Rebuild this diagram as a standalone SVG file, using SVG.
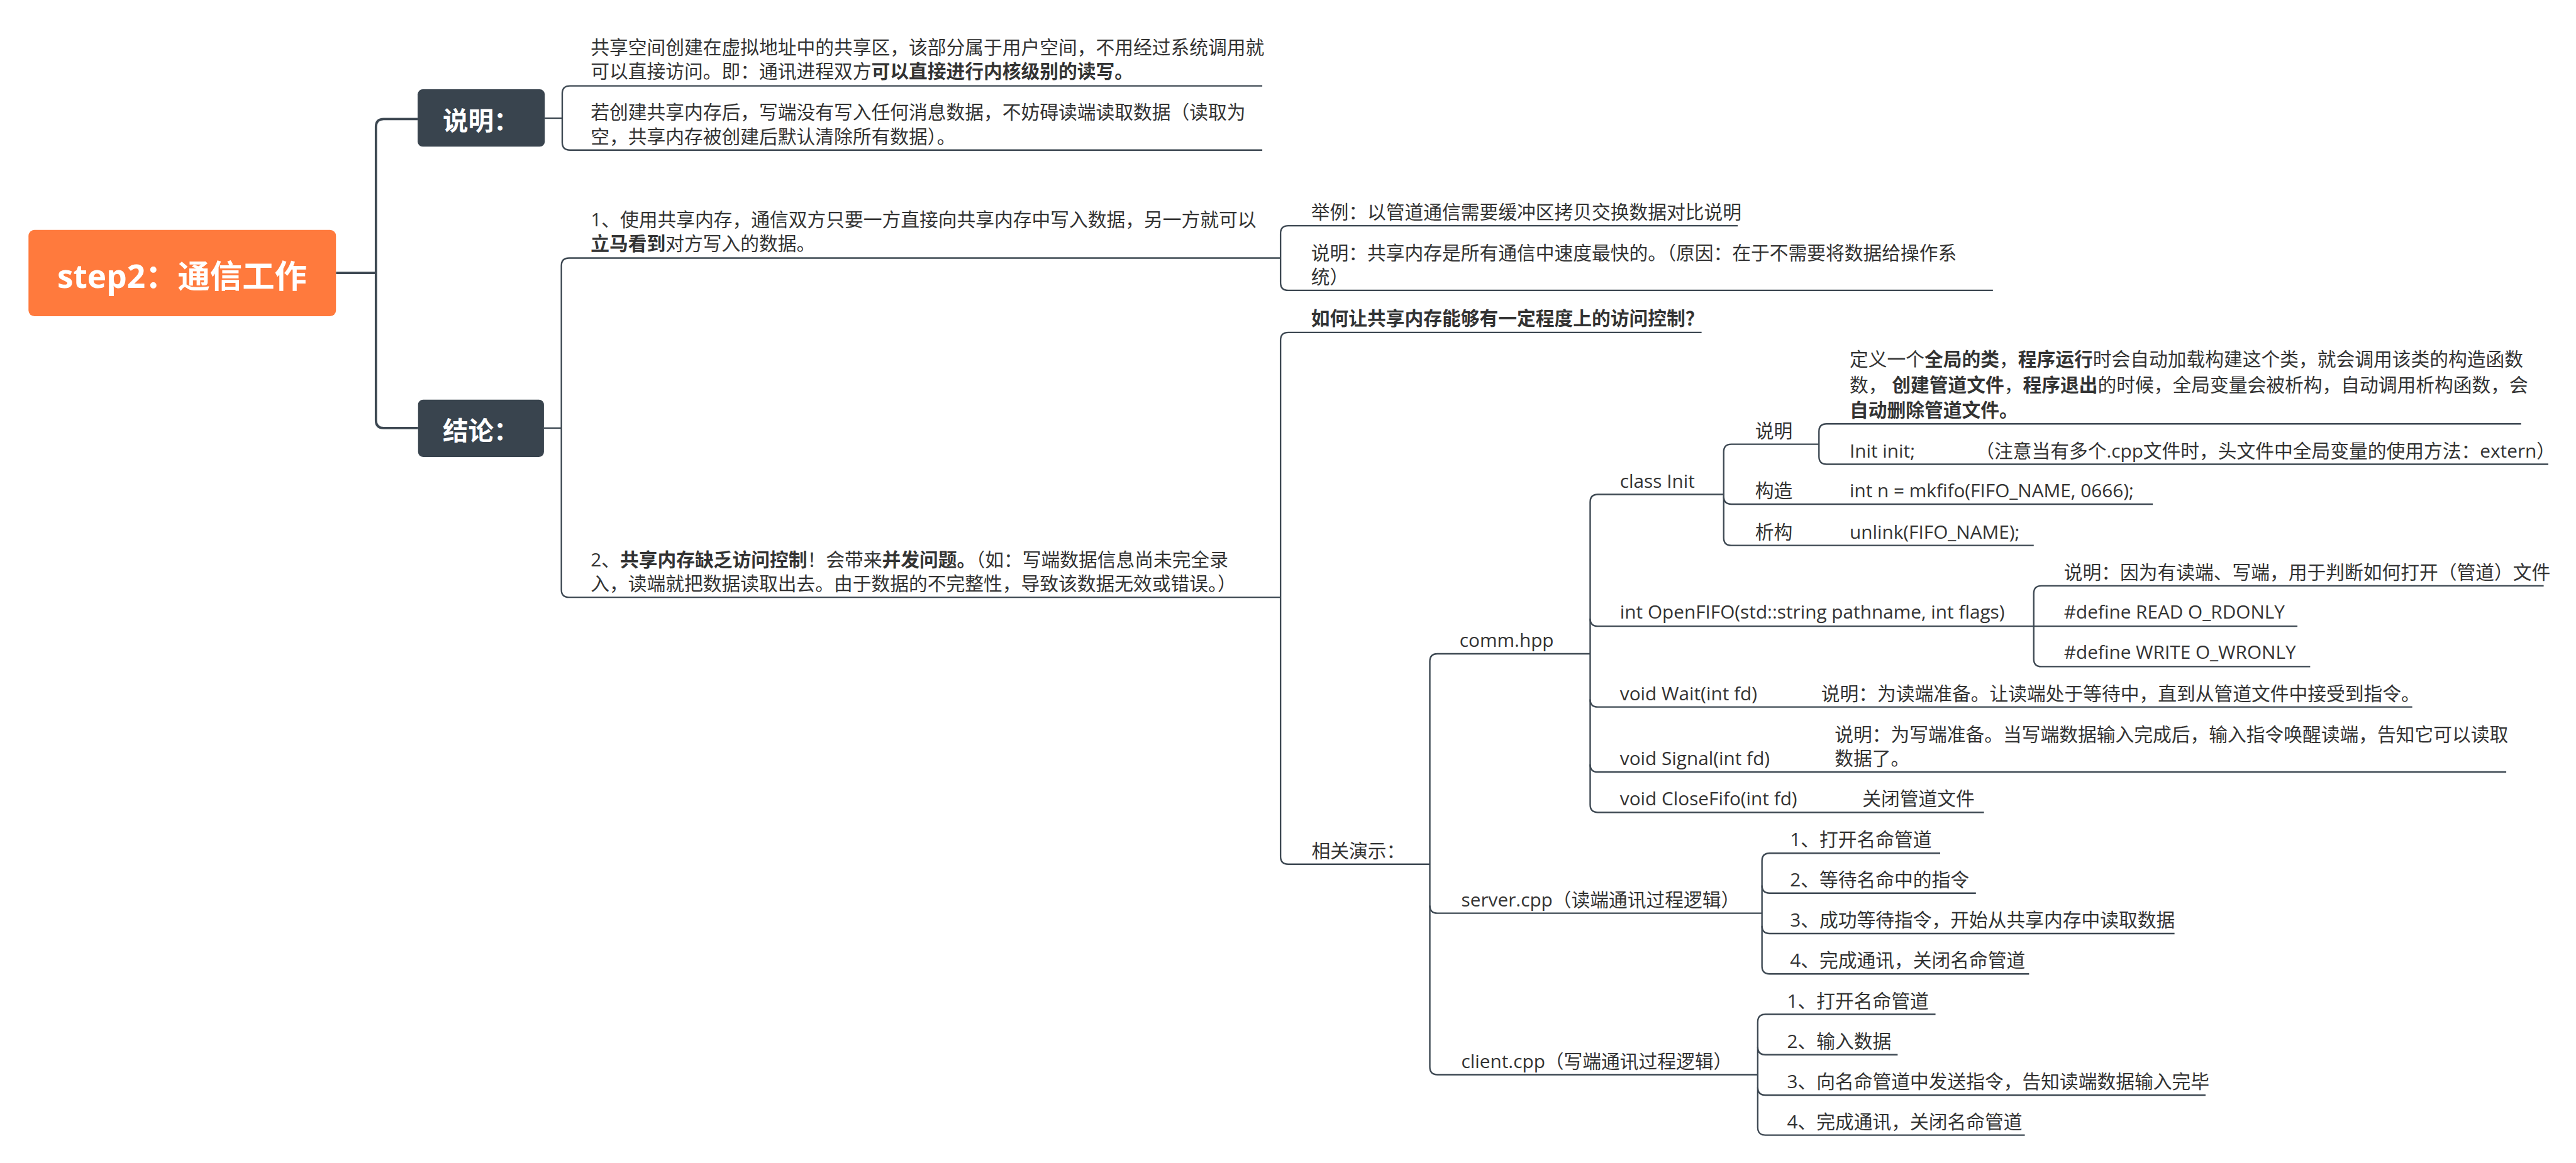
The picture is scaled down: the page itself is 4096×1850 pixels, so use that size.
<svg xmlns="http://www.w3.org/2000/svg" width="4096" height="1850" viewBox="0 0 4096 1850">
<style>
.t{font-family:"Open Sans","Noto Sans CJK SC",sans-serif;font-size:44px;fill:#333333}
.b{font-weight:bold}
.ln{fill:none;stroke:#3d4852;stroke-width:3.5}
.lr{fill:none;stroke:#3d4852;stroke-width:5.5}
.box{fill:#39444e}
.bt{font-family:"Open Sans","Noto Sans CJK SC",sans-serif;font-weight:bold;fill:#ffffff;text-anchor:middle}
</style>
<rect width="4096" height="1850" fill="#ffffff"/>
<g transform="scale(0.67624)">
<g id="connectors">
<path class="lr" d="M 790,642 H 884"/>
<path class="lr" d="M 982,280 H 902 Q 884,280 884,298 V 989 Q 884,1007 902,1007 H 983"/>
<path class="ln" d="M 1281,278 H 1322"/>
<path class="ln" d="M 2968,202 H 1340 Q 1322,202 1322,220 V 335 Q 1322,353 1340,353 H 2968"/>
<path class="ln" d="M 1279,1007 H 1320"/>
<path class="ln" d="M 3011,607 H 1338 Q 1320,607 1320,625 V 1387 Q 1320,1405 1338,1405 H 3011"/>
<path class="ln" d="M 4086,531 H 3029 Q 3011,531 3011,549 V 665 Q 3011,683 3029,683 H 4686"/>
<path class="ln" d="M 4001,782 H 3029 Q 3011,782 3011,800 V 2015 Q 3011,2033 3029,2033 H 3362"/>
<path class="ln" d="M 3739,1538 H 3380 Q 3362,1538 3362,1556 V 2510 Q 3362,2528 3380,2528 H 4133"/>
<path class="ln" d="M 3362,2130 Q 3362,2148 3380,2148 H 4143"/>
<path class="ln" d="M 4053,1163 H 3757 Q 3739,1163 3739,1181 V 1893 Q 3739,1911 3757,1911 H 4665"/>
<path class="ln" d="M 3739,1455 Q 3739,1473 3757,1473 H 4782"/>
<path class="ln" d="M 3739,1645 Q 3739,1663 3757,1663 H 5672"/>
<path class="ln" d="M 3739,1798 Q 3739,1816 3757,1816 H 5893"/>
<path class="ln" d="M 4277,1045 H 4071 Q 4053,1045 4053,1063 V 1265 Q 4053,1283 4071,1283 H 4782"/>
<path class="ln" d="M 4053,1168 Q 4053,1186 4071,1186 H 5062"/>
<path class="ln" d="M 5928,997 H 4295 Q 4277,997 4277,1015 V 1074 Q 4277,1092 4295,1092 H 5992"/>
<path class="ln" d="M 5981,1378 H 4800 Q 4782,1378 4782,1396 V 1550 Q 4782,1568 4800,1568 H 5432"/>
<path class="ln" d="M 4782,1473 H 5402"/>
<path class="ln" d="M 4562,2007 H 4161 Q 4143,2007 4143,2025 V 2273 Q 4143,2291 4161,2291 H 4771"/>
<path class="ln" d="M 4143,2083 Q 4143,2101 4161,2101 H 4646"/>
<path class="ln" d="M 4143,2178 Q 4143,2196 4161,2196 H 5113"/>
<path class="ln" d="M 4551,2386 H 4151 Q 4133,2386 4133,2404 V 2652 Q 4133,2670 4151,2670 H 4761"/>
<path class="ln" d="M 4133,2463 Q 4133,2481 4151,2481 H 4462"/>
<path class="ln" d="M 4133,2558 Q 4133,2576 4151,2576 H 5186"/>
</g>
<g id="root">
<rect x="67" y="541" width="723" height="203" rx="14" fill="#ff7a3d"/>
<text class="bt" x="428" y="677" font-size="76">step2：通信工作</text>
</g>
<g id="n-shuoming">
<rect class="box" x="982" y="210" width="299" height="135" rx="12"/>
<text class="bt" x="1131" y="306" font-size="60">说明：</text>
</g>
<g id="n-jielun">
<rect class="box" x="983" y="940" width="296" height="135" rx="12"/>
<text class="bt" x="1131" y="1035" font-size="60">结论：</text>
</g>
<g id="n-sm1">
<text class="t" x="1389" y="127">共享空间创建在虚拟地址中的共享区，该部分属于用户空间，不用经过系统调用就</text>
<text class="t" x="1389" y="184">可以直接访问。即：通讯进程双方<tspan class="b">可以直接进行内核级别的读写。</tspan></text>
</g>
<g id="n-sm2">
<text class="t" x="1389" y="280">若创建共享内存后，写端没有写入任何消息数据，不妨碍读端读取数据（读取为</text>
<text class="t" x="1389" y="337">空，共享内存被创建后默认清除所有数据）。</text>
</g>
<g id="n-jl1">
<text class="t" x="1389" y="532">1、使用共享内存，通信双方只要一方直接向共享内存中写入数据，另一方就可以</text>
<text class="t" x="1389" y="589"><tspan class="b">立马看到</tspan>对方写入的数据。</text>
</g>
<g id="n-jl2">
<text class="t" x="1389" y="1332">2、<tspan class="b">共享内存缺乏访问控制</tspan>！会带来<tspan class="b">并发问题。</tspan>（如：写端数据信息尚未完全录</text>
<text class="t" x="1389" y="1389">入，读端就把数据读取出去。由于数据的不完整性，导致该数据无效或错误。）</text>
</g>
<g id="n-juli">
<text class="t" x="3083" y="515">举例：以管道通信需要缓冲区拷贝交换数据对比说明</text>
</g>
<g id="n-sm3">
<text class="t" x="3083" y="610">说明：共享内存是所有通信中速度最快的。（原因：在于不需要将数据给操作系</text>
<text class="t" x="3083" y="667">统）</text>
</g>
<g id="n-ruhe">
<text class="t b" x="3083" y="764">如何让共享内存能够有一定程度上的访问控制？</text>
</g>
<g id="n-xiangguan">
<text class="t" x="3084" y="2017">相关演示：</text>
</g>
<g id="n-comm">
<text class="t" x="3432" y="1522">comm.hpp</text>
</g>
<g id="n-classinit">
<text class="t" x="3809" y="1147">class Init</text>
</g>
<g id="n-ci-sm">
<text class="t" x="4127" y="1029">说明</text>
</g>
<g id="n-ci-def">
<text class="t" x="4349" y="861">定义一个<tspan class="b">全局的类</tspan>，<tspan class="b">程序运行</tspan>时会自动加载构建这个类，就会调用该类的构造函数</text>
<text class="t" x="4349" y="921">数， <tspan class="b">创建管道文件</tspan>，<tspan class="b">程序退出</tspan>的时候，全局变量会被析构，自动调用析构函数，会</text>
<text class="t b" x="4349" y="981">自动删除管道文件。</text>
</g>
<g id="n-ci-init">
<text class="t" x="4349" y="1076">Init init;<tspan x="4645">（注意当有多个.cpp文件时，头文件中全局变量的使用方法：extern）</tspan></text>
</g>
<g id="n-gouzao">
<text class="t" x="4127" y="1170">构造</text>
</g>
<g id="n-mkfifo">
<text class="t" x="4349" y="1170">int n = mkfifo(FIFO_NAME, 0666);</text>
</g>
<g id="n-xigou">
<text class="t" x="4127" y="1267">析构</text>
</g>
<g id="n-unlink">
<text class="t" x="4349" y="1267">unlink(FIFO_NAME);</text>
</g>
<g id="n-openfifo">
<text class="t" x="3809" y="1455">int OpenFIFO(std::string pathname, int flags)</text>
</g>
<g id="n-of-sm">
<text class="t" x="4853" y="1362">说明：因为有读端、写端，用于判断如何打开（管道）文件</text>
</g>
<g id="n-of-read">
<text class="t" x="4853" y="1455">#define READ O_RDONLY</text>
</g>
<g id="n-of-write">
<text class="t" x="4853" y="1550">#define WRITE O_WRONLY</text>
</g>
<g id="n-wait">
<text class="t" x="3809" y="1647">void Wait(int fd)</text>
</g>
<g id="n-wait-sm">
<text class="t" x="4282" y="1647">说明：为读端准备。让读端处于等待中，直到从管道文件中接受到指令。</text>
</g>
<g id="n-signal">
<text class="t" x="3809" y="1800">void Signal(int fd)</text>
</g>
<g id="n-signal-sm">
<text class="t" x="4314" y="1743">说明：为写端准备。当写端数据输入完成后，输入指令唤醒读端，告知它可以读取</text>
<text class="t" x="4314" y="1800">数据了。</text>
</g>
<g id="n-close">
<text class="t" x="3809" y="1895">void CloseFifo(int fd)</text>
</g>
<g id="n-close-sm">
<text class="t" x="4379" y="1895">关闭管道文件</text>
</g>
<g id="n-server">
<text class="t" x="3436" y="2132">server.cpp（读端通讯过程逻辑）</text>
</g>
<g id="n-s1"><text class="t" x="4209" y="1991">1、打开名命管道</text></g>
<g id="n-s2"><text class="t" x="4209" y="2085">2、等待名命中的指令</text></g>
<g id="n-s3"><text class="t" x="4209" y="2180">3、成功等待指令，开始从共享内存中读取数据</text></g>
<g id="n-s4"><text class="t" x="4209" y="2275">4、完成通讯，关闭名命管道</text></g>
<g id="n-client">
<text class="t" x="3436" y="2512">client.cpp（写端通讯过程逻辑）</text>
</g>
<g id="n-c1"><text class="t" x="4202" y="2370">1、打开名命管道</text></g>
<g id="n-c2"><text class="t" x="4202" y="2465">2、输入数据</text></g>
<g id="n-c3"><text class="t" x="4202" y="2560">3、向名命管道中发送指令，告知读端数据输入完毕</text></g>
<g id="n-c4"><text class="t" x="4202" y="2654">4、完成通讯，关闭名命管道</text></g>
</g>
</svg>
